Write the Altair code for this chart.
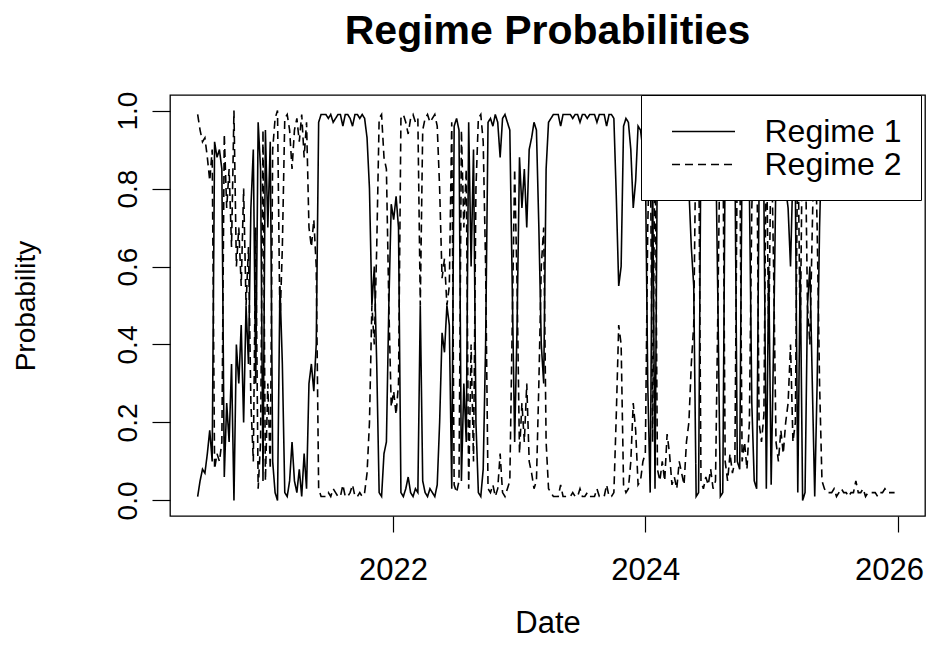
import altair as alt
import pandas as pd

start_date = "2020-06-15"
series_names = ["Regime 1", "Regime 2"]

# Weekly smoothed probability of Regime 1
regime1 = [
    0.01, 0.05, 0.08, 0.07, 0.12, 0.18, 0.10,
    0.92, 0.88, 0.90, 0.85,
    0.06, 0.25, 0.15, 0.35, 0.00, 0.40, 0.30, 0.45, 0.20, 0.50, 0.35,
    0.75, 0.90, 0.30, 0.97, 0.85, 0.05, 0.95, 0.70, 0.92, 0.10, 0.02, 0.00,
    0.55, 0.35, 0.02, 0.01, 0.05, 0.15, 0.05, 0.02, 0.08, 0.01, 0.12, 0.03, 0.30, 0.35, 0.28, 0.40,
    0.97, 0.99, 0.99, 0.99, 0.98, 0.99, 0.97, 0.98, 0.99, 0.99, 0.96, 0.99, 0.99, 0.98, 0.96, 0.99,
    0.99, 0.98, 0.99, 0.98, 0.93,
    0.80, 0.50, 0.60, 0.35, 0.02, 0.01, 0.12, 0.15, 0.50, 0.76, 0.72, 0.78, 0.70,
    0.02, 0.01, 0.03, 0.06, 0.02, 0.01, 0.03, 0.02, 0.50, 0.05, 0.02, 0.01, 0.03, 0.02, 0.01, 0.04,
    0.20, 0.43, 0.38, 0.50, 0.45,
    0.03, 0.96, 0.98, 0.95, 0.05, 0.30, 0.15, 0.97, 0.60, 0.90, 0.20, 0.02, 0.01, 0.08, 0.40, 0.97,
    0.98, 0.96, 0.99, 0.97, 0.88, 0.98, 0.99, 0.97, 0.95, 0.55, 0.15, 0.45, 0.88, 0.75, 0.85, 0.70,
    0.90, 0.93,
    0.97, 0.95, 0.70, 0.40, 0.30, 0.85, 0.97,
    0.98, 0.99, 0.99, 0.99, 0.96, 0.99, 0.99, 0.99, 0.99, 0.98, 0.99, 0.99, 0.97, 0.99, 0.99, 0.98,
    0.99, 0.99, 0.99, 0.97, 0.99, 0.99, 0.99, 0.96, 0.99, 0.99, 0.98, 0.78,
    0.55, 0.60, 0.96, 0.98, 0.97, 0.90, 0.75, 0.82, 0.96,
    0.95, 0.90, 0.88, 0.30, 0.02, 0.85, 0.03, 0.92, 0.95, 0.90, 0.95, 0.83, 0.88, 0.96, 0.94, 0.97,
    0.90, 0.93, 0.96, 0.85, 0.80, 0.65, 0.55, 0.01, 0.02, 0.95, 0.97, 0.94, 0.96, 0.92, 0.97, 0.95,
    0.50, 0.01, 0.02, 0.90, 0.95, 0.88, 0.93, 0.90, 0.10, 0.08, 0.90, 0.85, 0.92, 0.80, 0.25, 0.05,
    0.03, 0.80, 0.85, 0.78, 0.03, 0.60, 0.04, 0.40, 0.85, 0.90, 0.82, 0.88, 0.80, 0.75, 0.60, 0.85,
    0.80, 0.02, 0.60, 0.00, 0.02, 0.50, 0.60, 0.30, 0.01, 0.30, 0.70, 0.95,
    0.97, 0.98, 0.98, 0.98, 0.97, 0.99, 0.98, 0.97, 0.98, 0.98, 0.99, 0.98, 0.98, 0.95, 0.98, 0.98,
    0.97, 0.99, 0.98, 0.98, 0.98, 0.98, 0.99, 0.98, 0.98, 0.97, 0.98, 0.98, 0.98, 0.98,
]
regime2 = [round(1 - v, 2) for v in regime1]

dates = pd.date_range(start_date, periods=len(regime1), freq="7D")
df = pd.concat([
    pd.DataFrame({"Date": dates, "Probability": regime1, "Series": series_names[0]}),
    pd.DataFrame({"Date": dates, "Probability": regime2, "Series": series_names[1]}),
])

FONT = "Liberation Sans"

chart = alt.Chart(df).mark_line(color="black", strokeWidth=1.6, clip=True).encode(
    x=alt.X(
        "Date:T",
        scale=alt.Scale(domain=["2020-03-27", "2026-03-20"], nice=False),
        axis=alt.Axis(
            values=["2022-01-01", "2024-01-01", "2026-01-01"],
            format="%Y", grid=False, domain=False,
            tickColor="black", tickSize=16, tickWidth=1.2,
            labelFontSize=31, labelFont=FONT, labelColor="black", labelPadding=23,
            labelOffset={"condition": {"test": "year(datum.value) >= 2026", "value": -9}, "value": 0},
            titleFontSize=31, titleFont=FONT, titleFontWeight="normal", titleColor="black",
            titlePadding=23, labelFlush=False,
        ),
    ),
    y=alt.Y(
        "Probability:Q",
        scale=alt.Scale(domain=[-0.04, 1.04], nice=False, zero=False),
        axis=alt.Axis(
            values=[0, 0.2, 0.4, 0.6, 0.8, 1.0], format=".1f", grid=False, domain=False,
            tickColor="black", tickSize=18, tickWidth=1.2,
            labelAngle=-90, labelAlign="center", labelBaseline="bottom",
            labelFontSize=28, labelFont=FONT, labelColor="black", labelPadding=10,
            titleFontSize=28, titleFont=FONT, titleFontWeight="normal", titleColor="black",
            titlePadding=74,
        ),
    ),
    strokeDash=alt.StrokeDash(
        "Series:N",
        scale=alt.Scale(domain=series_names, range=[[1, 0], [8, 5]]),
        legend=alt.Legend(
            title=None, orient="none", legendX=471, legendY=0,
            strokeColor="black", fillColor="white", padding=19.5,
            symbolType="M-2,0H2", symbolSize=992, symbolStrokeWidth=1.6,
            symbolStrokeColor="black", symbolOffset=26,
            labelFontSize=32, labelFont=FONT, labelColor="black",
            labelOffset=44, rowPadding=0,
        ),
    ),
).properties(
    width=755,
    height=421,
    title=alt.TitleParams(
        "Regime Probabilities", fontSize=41, font=FONT, fontWeight="bold",
        color="black", anchor="middle", offset=38,
    ),
    autosize=alt.AutoSizeParams(type="none"),
    padding={"left": 162, "top": 87, "right": 3, "bottom": 126},
).configure_view(stroke="black", strokeWidth=1.3)

chart.save("out.html", embed_options={"renderer": "svg", "actions": False})
